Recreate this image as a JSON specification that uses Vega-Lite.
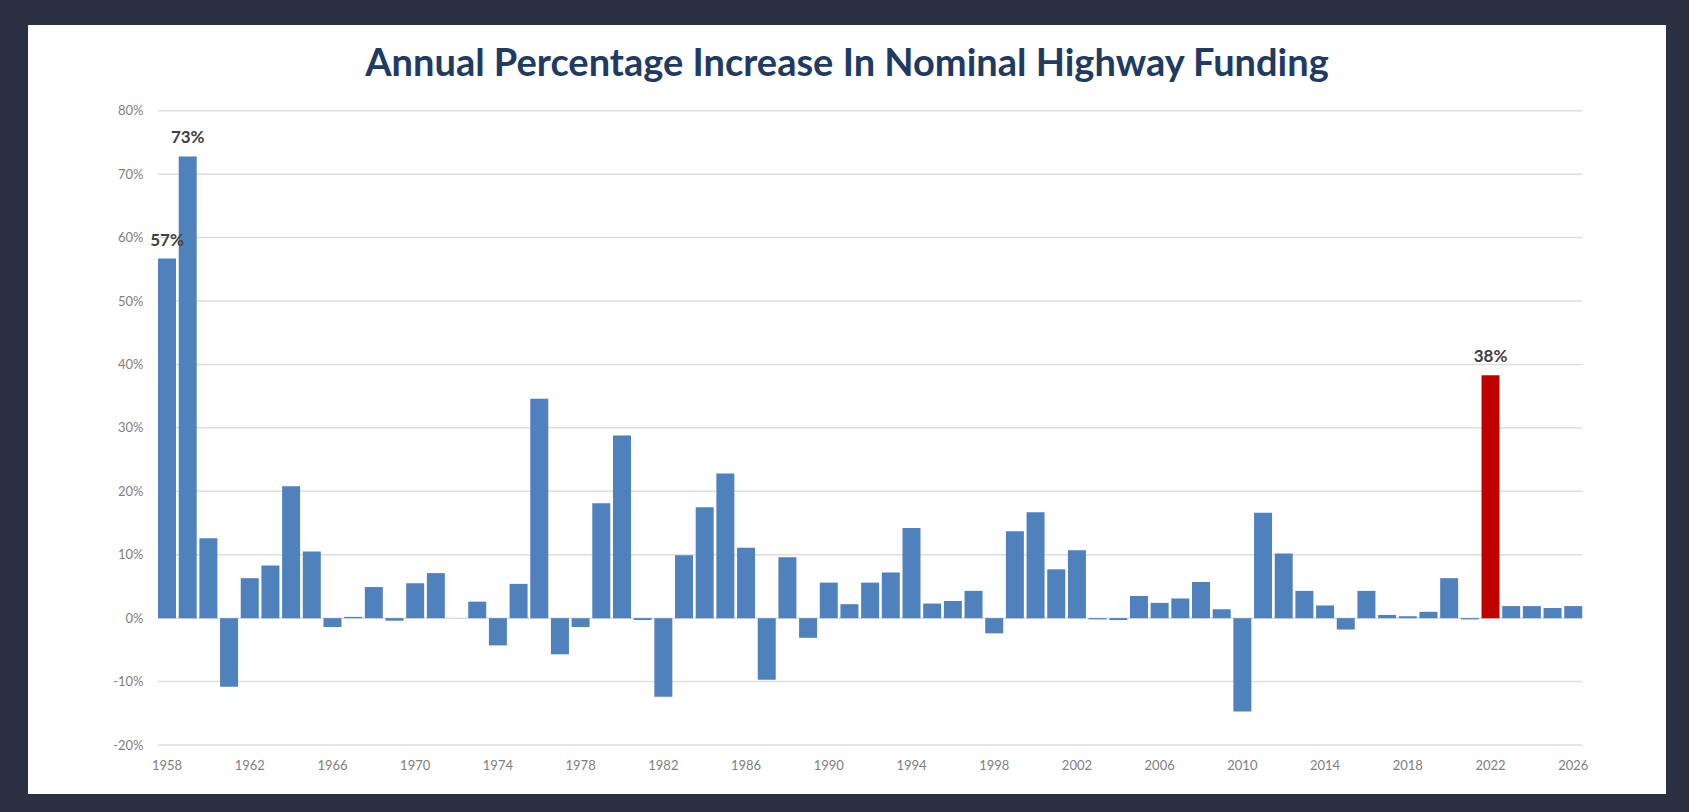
{
  "$schema": "https://vega.github.io/schema/vega-lite/v6.json",
  "autosize": "none",
  "width": 1540,
  "height": 671,
  "padding": {"left": 77, "top": 74, "right": 72, "bottom": 67},
  "background": "#2A3142",
  "title": {
    "text": "Annual Percentage Increase In Nominal Highway Funding",
    "font": "Lato",
    "fontSize": 38,
    "fontWeight": "bold",
    "color": "#1F3A63",
    "anchor": "middle",
    "baseline": "alphabetic",
    "offset": 0,
    "dy": 40
  },
  "config": {
    "view": {"fill": "#ffffff", "stroke": "#ffffff", "strokeWidth": 98},
    "font": "Lato"
  },
  "datasets": {
    "funding": [
      {"year": 1958, "change": 0.567},
      {"year": 1959, "change": 0.728},
      {"year": 1960, "change": 0.126},
      {"year": 1961, "change": -0.108},
      {"year": 1962, "change": 0.063},
      {"year": 1963, "change": 0.083},
      {"year": 1964, "change": 0.208},
      {"year": 1965, "change": 0.105},
      {"year": 1966, "change": -0.014},
      {"year": 1967, "change": 0.002},
      {"year": 1968, "change": 0.049},
      {"year": 1969, "change": -0.004},
      {"year": 1970, "change": 0.055},
      {"year": 1971, "change": 0.071},
      {"year": 1972, "change": 0},
      {"year": 1973, "change": 0.026},
      {"year": 1974, "change": -0.043},
      {"year": 1975, "change": 0.054},
      {"year": 1976, "change": 0.346},
      {"year": 1977, "change": -0.057},
      {"year": 1978, "change": -0.014},
      {"year": 1979, "change": 0.181},
      {"year": 1980, "change": 0.288},
      {"year": 1981, "change": -0.003},
      {"year": 1982, "change": -0.124},
      {"year": 1983, "change": 0.099},
      {"year": 1984, "change": 0.175},
      {"year": 1985, "change": 0.228},
      {"year": 1986, "change": 0.111},
      {"year": 1987, "change": -0.097},
      {"year": 1988, "change": 0.096},
      {"year": 1989, "change": -0.031},
      {"year": 1990, "change": 0.056},
      {"year": 1991, "change": 0.022},
      {"year": 1992, "change": 0.056},
      {"year": 1993, "change": 0.072},
      {"year": 1994, "change": 0.142},
      {"year": 1995, "change": 0.023},
      {"year": 1996, "change": 0.027},
      {"year": 1997, "change": 0.043},
      {"year": 1998, "change": -0.024},
      {"year": 1999, "change": 0.137},
      {"year": 2000, "change": 0.167},
      {"year": 2001, "change": 0.077},
      {"year": 2002, "change": 0.107},
      {"year": 2003, "change": -0.002},
      {"year": 2004, "change": -0.003},
      {"year": 2005, "change": 0.035},
      {"year": 2006, "change": 0.024},
      {"year": 2007, "change": 0.031},
      {"year": 2008, "change": 0.057},
      {"year": 2009, "change": 0.014},
      {"year": 2010, "change": -0.147},
      {"year": 2011, "change": 0.166},
      {"year": 2012, "change": 0.102},
      {"year": 2013, "change": 0.043},
      {"year": 2014, "change": 0.020},
      {"year": 2015, "change": -0.018},
      {"year": 2016, "change": 0.043},
      {"year": 2017, "change": 0.005},
      {"year": 2018, "change": 0.003},
      {"year": 2019, "change": 0.010},
      {"year": 2020, "change": 0.063},
      {"year": 2021, "change": -0.002},
      {"year": 2022, "change": 0.383},
      {"year": 2023, "change": 0.019},
      {"year": 2024, "change": 0.019},
      {"year": 2025, "change": 0.016},
      {"year": 2026, "change": 0.019}
    ],
    "gridlines": [
      {"tick": -0.2}, {"tick": -0.1}, {"tick": 0}, {"tick": 0.1}, {"tick": 0.2},
      {"tick": 0.3}, {"tick": 0.4}, {"tick": 0.5}, {"tick": 0.6}, {"tick": 0.7}, {"tick": 0.8}
    ]
  },
  "layer": [
    {
      "data": {"name": "gridlines"},
      "mark": {"type": "rule", "color": "#DEDEDE", "strokeWidth": 1.5},
      "encoding": {
        "y": {"field": "tick", "type": "quantitative", "title": null},
        "x": {
          "datum": 1958,
          "type": "ordinal",
          "bandPosition": 0,
          "title": null,
          "axis": {
            "values": [1958, 1962, 1966, 1970, 1974, 1978, 1982, 1986, 1990, 1994, 1998, 2002, 2006, 2010, 2014, 2018, 2022, 2026],
            "bandPosition": 0.5,
            "labelAngle": 0,
            "domain": false,
            "ticks": false,
            "tickSize": 0,
            "labelPadding": 14,
            "labelFont": "Lato",
            "labelFontSize": 13,
            "labelColor": "#808080",
            "grid": false
          }
        },
        "x2": {"datum": 2026, "bandPosition": 1}
      }
    },
    {
      "data": {"name": "funding"},
      "mark": {"type": "bar"},
      "encoding": {
        "x": {
          "field": "year",
          "type": "ordinal",
          "title": null,
          "scale": {
            "domain": [1955, 1956, 1957, 1958, 1959, 1960, 1961, 1962, 1963, 1964, 1965, 1966, 1967, 1968, 1969, 1970, 1971, 1972, 1973, 1974, 1975, 1976, 1977, 1978, 1979, 1980, 1981, 1982, 1983, 1984, 1985, 1986, 1987, 1988, 1989, 1990, 1991, 1992, 1993, 1994, 1995, 1996, 1997, 1998, 1999, 2000, 2001, 2002, 2003, 2004, 2005, 2006, 2007, 2008, 2009, 2010, 2011, 2012, 2013, 2014, 2015, 2016, 2017, 2018, 2019, 2020, 2021, 2022, 2023, 2024, 2025, 2026, 2027],
            "paddingInner": 0.13,
            "paddingOuter": 0.8,
            "align": 0.574
          },
          "axis": {
            "values": [1958, 1962, 1966, 1970, 1974, 1978, 1982, 1986, 1990, 1994, 1998, 2002, 2006, 2010, 2014, 2018, 2022, 2026],
            "bandPosition": 0.5,
            "labelAngle": 0,
            "domain": false,
            "ticks": false,
            "tickSize": 0,
            "labelPadding": 14,
            "labelFont": "Lato",
            "labelFontSize": 13,
            "labelColor": "#808080",
            "grid": false
          }
        },
        "y": {
          "field": "change",
          "type": "quantitative",
          "title": null,
          "scale": {"domain": [-0.2, 0.8579], "nice": false, "zero": false},
          "axis": {
            "values": [-0.2, -0.1, 0, 0.1, 0.2, 0.3, 0.4, 0.5, 0.6, 0.7, 0.8],
            "format": ".0%",
            "labelExpr": "replace(datum.label, '\u2212', '-')",
            "grid": false,
            "domain": false,
            "ticks": false,
            "tickSize": 0,
            "labelPadding": 2,
            "offset": -68,
            "labelFont": "Lato",
            "labelFontSize": 13,
            "labelColor": "#808080"
          }
        },
        "color": {
          "condition": {"test": "datum.year === 2022", "value": "#C00000"},
          "value": "#4F81BD"
        }
      }
    },
    {
      "data": {"name": "funding"},
      "transform": [{"filter": "datum.year === 1958 || datum.year === 1959 || datum.year === 2022"}],
      "mark": {"type": "text", "font": "Lato", "fontSize": 17, "fontWeight": "bold", "color": "#404040", "baseline": "alphabetic", "dy": -13},
      "encoding": {
        "x": {"field": "year", "type": "ordinal", "title": null},
        "y": {"field": "change", "type": "quantitative", "title": null},
        "text": {"field": "change", "type": "quantitative", "format": ".0%"}
      }
    }
  ]
}
